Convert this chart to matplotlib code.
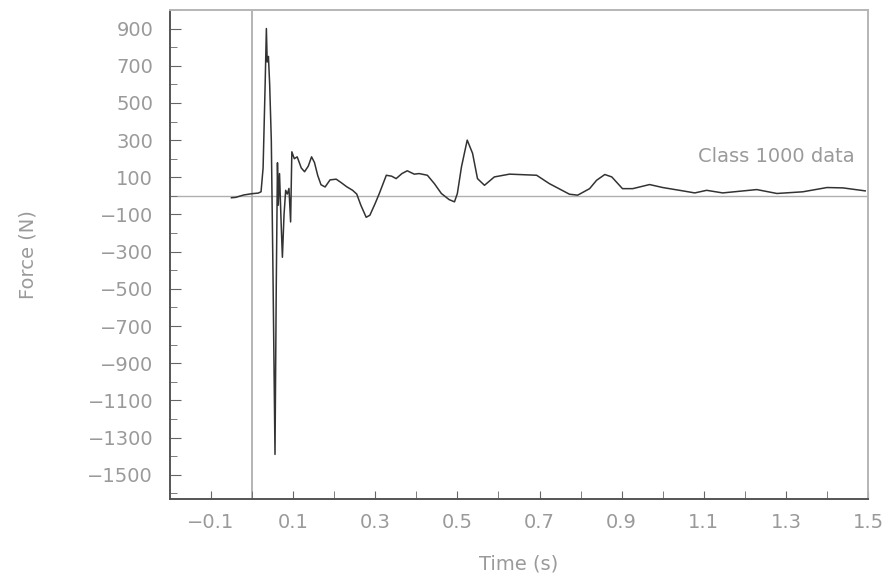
import matplotlib
matplotlib.use("Agg")
import matplotlib.pyplot as plt
import numpy as np

# force trace (time in s, force in N)
time_s = [-0.050, -0.040, -0.020, 0.000, 0.015, 0.022, 0.027, 0.032, 0.035, 0.037,
          0.040, 0.043, 0.047, 0.051, 0.056, 0.059, 0.062, 0.064, 0.067, 0.071,
          0.074, 0.078, 0.082, 0.086, 0.090, 0.094, 0.097, 0.103, 0.110, 0.120,
          0.128, 0.137, 0.145, 0.152, 0.160, 0.168, 0.178, 0.190, 0.205, 0.218,
          0.230, 0.245, 0.255, 0.265, 0.278, 0.287, 0.300, 0.310, 0.327, 0.340,
          0.351, 0.365, 0.378, 0.395, 0.407, 0.427, 0.444, 0.461, 0.480, 0.493,
          0.500, 0.510, 0.524, 0.537, 0.549, 0.566, 0.590, 0.627, 0.693, 0.724,
          0.773, 0.793, 0.822, 0.839, 0.859, 0.876, 0.902, 0.927, 0.968, 1.000,
          1.049, 1.078, 1.107, 1.146, 1.229, 1.278, 1.341, 1.400, 1.439, 1.493]
force_n = [-10, -8, 5, 12, 15, 22, 150, 600, 900, 720,
           750, 600, 300, -400, -1390, -500, 178, -50, 120, -150,
           -330, -100, 30, 10, 40, -140, 237, 200, 210, 150,
           130, 160, 210, 180, 110, 60, 48, 86, 90, 70,
           50, 30, 10, -50, -115, -104, -40, 13, 111, 106,
           93, 120, 135, 117, 120, 111, 66, 13, -20, -32,
           13, 156, 300, 229, 93, 57, 102, 117, 111, 66,
           9, 4, 39, 84, 115, 102, 39, 39, 61, 45,
           27, 16, 30, 16, 34, 13, 22, 45, 43, 27]

y_major = np.arange(-1500, 901, 200)
y_minor = np.arange(-1600, 1001, 200)
x_major = np.round(np.arange(-0.1, 1.51, 0.2), 1)
x_minor = np.round(np.arange(0.0, 1.41, 0.2), 1)

text_col = "#9a9a9a"
plt.rcParams['font.family'] = ['DejaVu Sans']

fig = plt.figure(figsize=(8.94, 5.84), dpi=100)
ax = fig.add_axes([0.190, 0.1455, 0.781, 0.8375])

ax.axhline(0, color="#b0b0b0", lw=1.0, zorder=1)
ax.axvline(0, color="#a8a8a8", lw=1.2, zorder=1)
ax.plot(time_s, force_n, color="#333333", lw=1.1, zorder=3)

ax.set_xlim(-0.2, 1.5)
ax.set_ylim(-1630, 1000)

ax.set_xticks(x_major)
ax.set_xticks(x_minor, minor=True)
ax.set_xticklabels([f"{v:.1f}".replace("-", "\u2212") for v in x_major])
ax.set_yticks(y_major)
ax.set_yticks(y_minor, minor=True)

ax.tick_params(axis="both", which="both", direction="in", colors="#666666",
               labelcolor=text_col, labelsize=14)
ax.tick_params(axis="x", which="both", length=6, pad=10)
ax.tick_params(axis="y", which="major", length=8, pad=12)
ax.tick_params(axis="y", which="minor", length=5)

for side in ["left", "bottom"]:
    ax.spines[side].set_color("#555555")
    ax.spines[side].set_linewidth(1.4)
for side in ["top", "right"]:
    ax.spines[side].set_color("#b5b5b5")
    ax.spines[side].set_linewidth(1.4)

ax.set_xlabel("Time (s)", color=text_col, fontsize=14, labelpad=16)
ax.set_ylabel("Force (N)", color=text_col, fontsize=14, labelpad=36)

ax.text(1.468, 210, "Class 1000 data", color=text_col, fontsize=14,
        ha="right", va="center")

fig.savefig("out.png", dpi=100)
